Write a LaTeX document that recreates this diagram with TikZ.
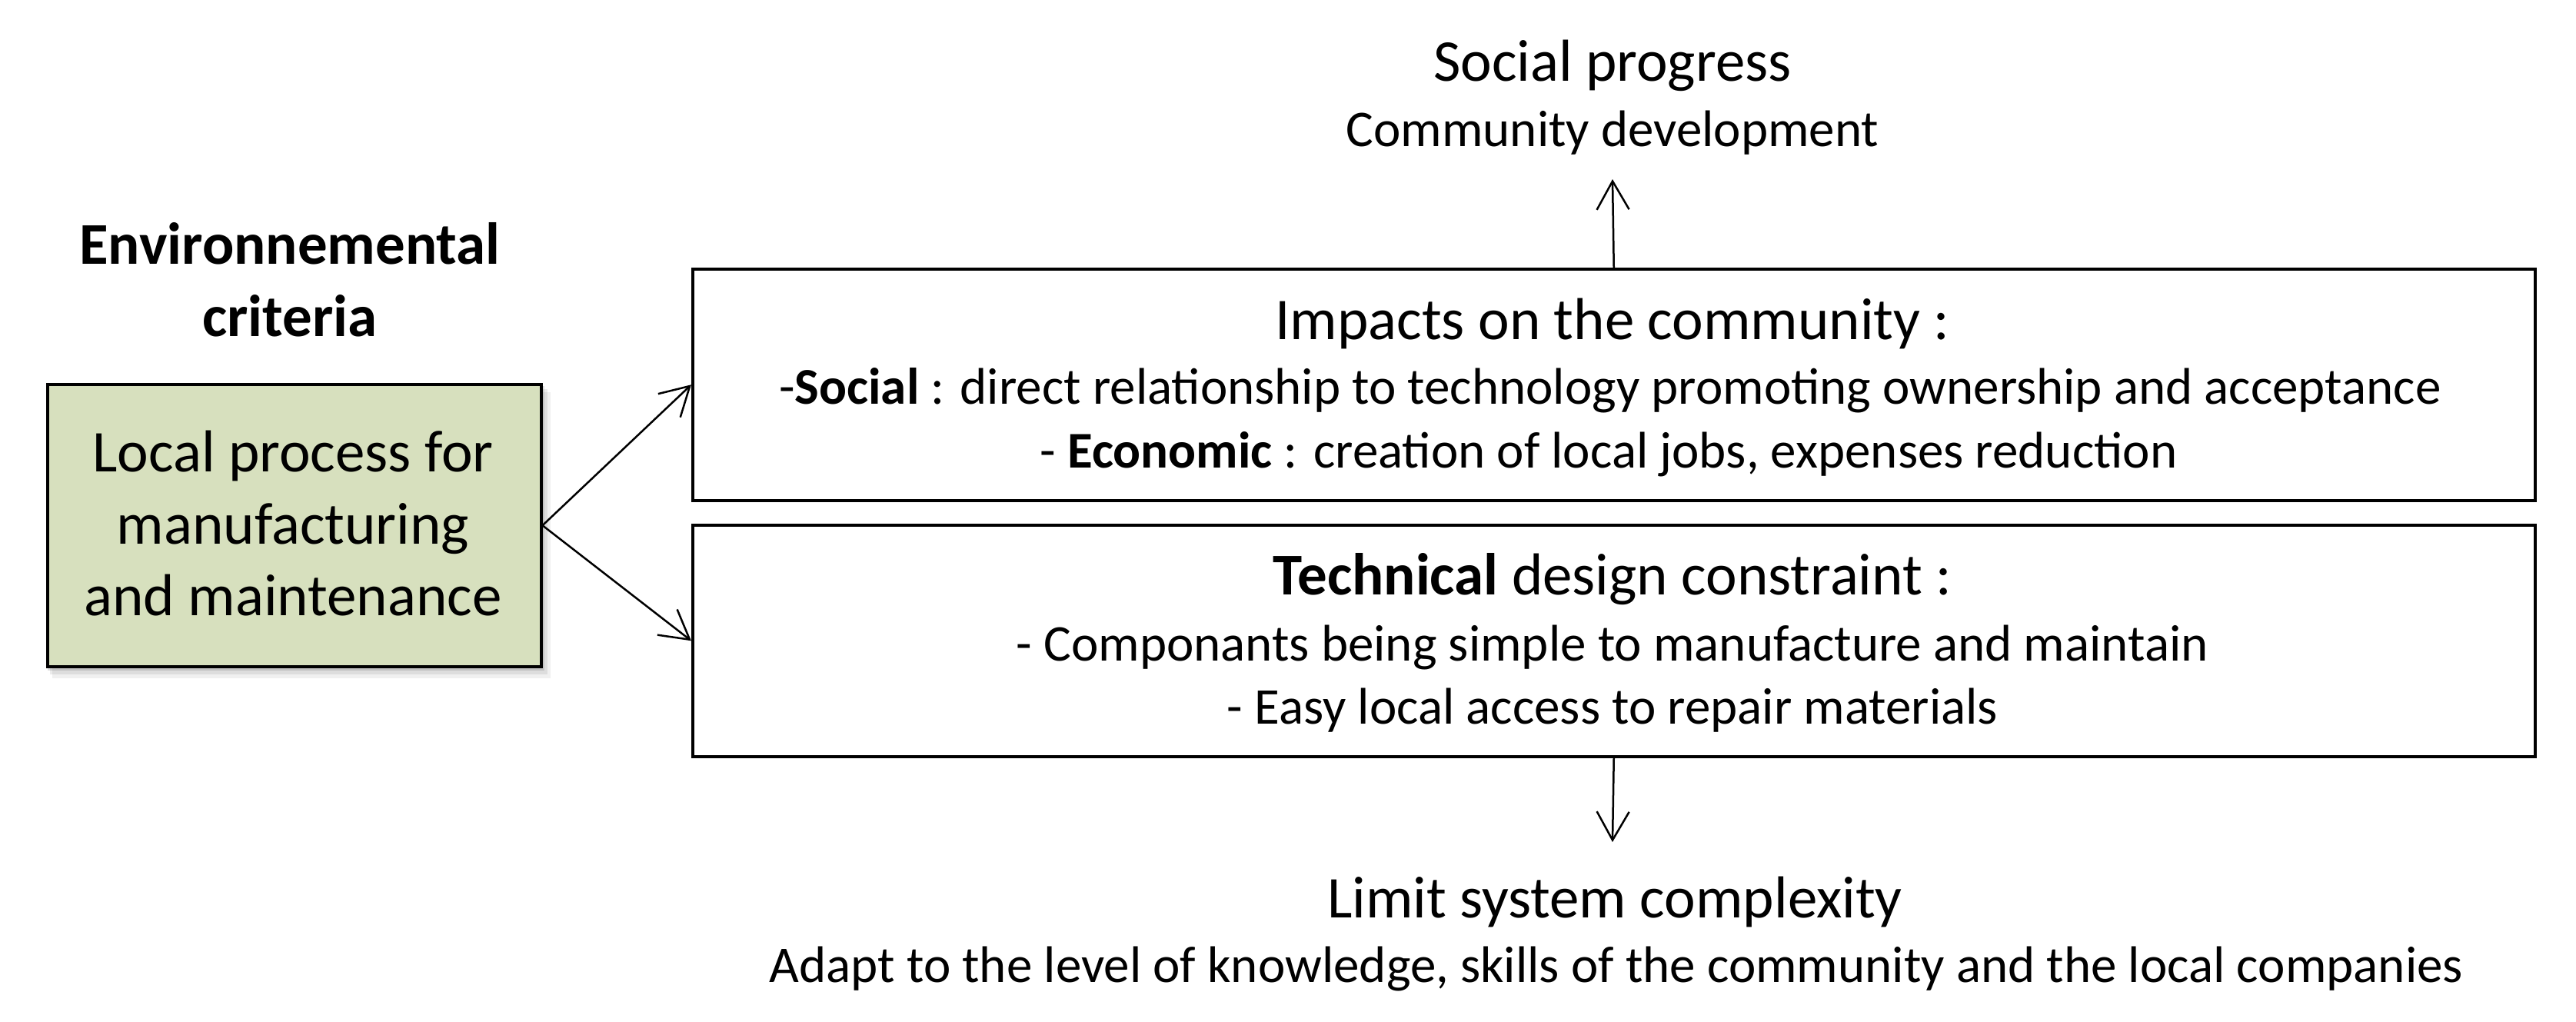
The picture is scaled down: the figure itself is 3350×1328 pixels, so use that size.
\documentclass[tikz,border=0pt]{standalone}
\usepackage{fontspec}
\setmainfont{Carlito}
\usetikzlibrary{arrows.meta}
\definecolor{boxgreen}{RGB}{215,224,190}
\begin{document}
\begin{tikzpicture}[x=1pt,y=-1pt,
  ttl/.style={font=\fontsize{77}{92}\selectfont, inner sep=0pt, anchor=base},
  body/.style={font=\fontsize{67}{80}\selectfont, inner sep=0pt, anchor=base},
  frame/.style={draw=black, line width=3.5pt, minimum width=2396pt, minimum height=301pt, anchor=north west, inner sep=0pt},
  conn/.style={line width=2.5pt, -{Straight Barb[length=37pt,width=42pt,line width=2.5pt]}}]
\useasboundingbox (0,0) rectangle (3350,1328);
\fill[white] (0,0) rectangle (3350,1328);

% left title
\node[ttl, font=\bfseries\fontsize{77}{92}\selectfont] (env1) at (377,343) {Environnemental};
\node[ttl, font=\bfseries\fontsize{77}{92}\selectfont] (env2) at (377,437) {criteria};

% green box with soft shadow
\fill[black, opacity=0.06] (68,510) rectangle (716,882);
\fill[black, opacity=0.08] (65,506) rectangle (712,877);
\fill[black, opacity=0.12] (62,502) rectangle (708,872);
\node[draw=black, line width=3.5pt, fill=boxgreen, minimum width=642pt, minimum height=367pt, anchor=north west, inner sep=0pt] (loc) at (60,498) {};
\node[ttl] (loc1) at (381,613) {Local process for};
\node[ttl] (loc2) at (381,707) {manufacturing};
\node[ttl] (loc3) at (381,800) {and maintenance};

% top box
\node[frame] (impact) at (899,348) {};
\node[ttl] (imp1) at (2097,441) {Impacts on the community :};
\node[body] (imp2) at (2094,525) {-\textbf{Social} : direct relationship to technology promoting ownership and acceptance};
\node[body] (imp3) at (2092,608) {- \textbf{Economic} : creation of local jobs, expenses reduction};

% bottom box
\node[frame] (tech) at (899,681) {};
\node[ttl] (tec1) at (2097,773) {\textbf{Technical} design constraint :};
\node[body] (tec2) at (2097,859) {- Componants being simple to manufacture and maintain};
\node[body] (tec3) at (2097,941) {- Easy local access to repair materials};

% top outcome
\node[ttl] (sp1) at (2097,105) {Social progress};
\node[body] (sp2) at (2097,190) {Community development};

% bottom outcome
\node[ttl] (lim1) at (2100,1193) {Limit system complexity};
\node[body] (lim2) at (2102,1277) {Adapt to the level of knowledge, skills of the community and the local companies};

% connectors
\coordinate (uptip) at (2097,233);
\coordinate (downtip) at (2097,1095);
\draw[conn] (impact.north) -- (uptip);
\draw[conn] (tech.south) -- (downtip);
\draw[conn] (loc.east) -- (impact.west);
\draw[conn] (loc.east) -- (tech.west);
\end{tikzpicture}
\end{document}
